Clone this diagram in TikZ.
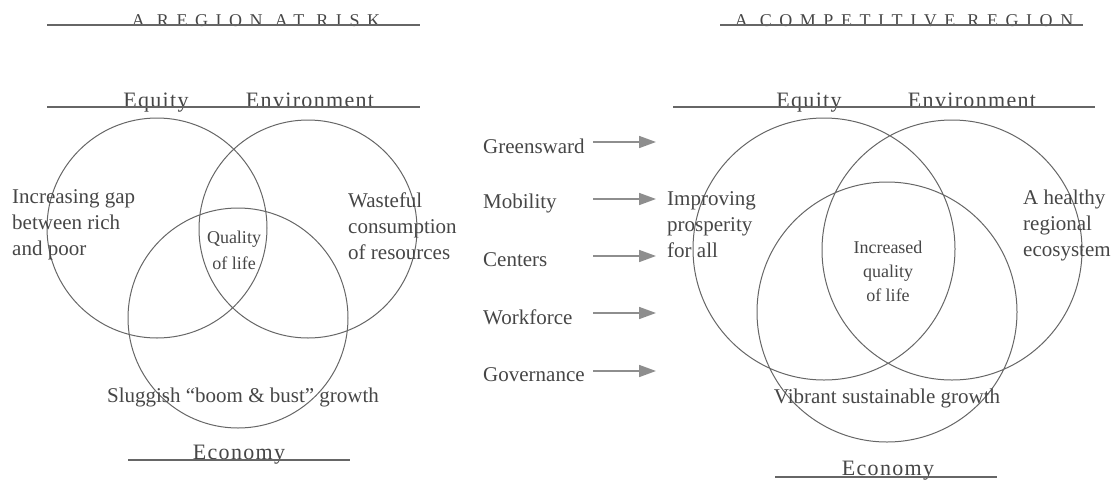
\documentclass[tikz,border=0pt]{standalone}
\usepackage{fontspec}
\setmainfont{Liberation Serif}
\usetikzlibrary{arrows.meta}

\definecolor{ink}{HTML}{464646}
\definecolor{rulegray}{HTML}{666666}
\definecolor{arrowgray}{HTML}{8E8E8E}

\tikzset{
  lbl/.style={text=ink, inner sep=0pt, align=left, font=\fontsize{21}{26}\selectfont},
  smalllbl/.style={text=ink, inner sep=0pt, align=center, font=\fontsize{18}{25}\selectfont},
  heading/.style={text=ink, inner sep=0pt, anchor=base, font=\fontsize{18}{20}\selectfont\addfontfeature{LetterSpace=42}},
  dimension/.style={text=ink, inner sep=0pt, anchor=base, font=\fontsize{22}{26}\selectfont\addfontfeature{LetterSpace=6}},
  venn/.style={draw=rulegray, line width=1pt},
  rulerline/.style={draw=rulegray, line width=1.1pt},
  flow/.style={draw=arrowgray, line width=1.7pt, -{Triangle[length=17pt,width=12pt]}}
}

\begin{document}
\begin{tikzpicture}[x=1pt,y=-1pt]
  \useasboundingbox (0,0) rectangle (1117,480);

  % region at risk
  \node[heading] (risk) at (256,26) {A REGION AT RISK};
  \draw[rulerline] (47,25) -- (420,25);
  \node[dimension] (eqL) at (156,107) {Equity};
  \node[dimension] (envL) at (310,107) {Environment};
  \draw[rulerline] (47,107) -- (420,107);
  \draw[venn] (157,228) circle[radius=110pt] (308,229) circle[radius=109pt]
              (238,318) circle[radius=110pt];
  \node[lbl, anchor=west] (gap) at (12,225) {Increasing gap\\between rich\\and poor};
  \node[lbl, anchor=west] (waste) at (348,226) {Wasteful\\consumption\\of resources};
  \node[smalllbl, font=\fontsize{18}{26}\selectfont] (qolL) at (234,250) {Quality\\of life};
  \node[lbl] (slug) at (243,397) {Sluggish ``boom \& bust'' growth};
  \node[dimension] (ecoL) at (239,459) {Economy};
  \draw[rulerline] (128,460) -- (350,460);

  % strategies
  \foreach \name/\txt/\y in {gs/Greensward/146, mob/Mobility/203, cen/Centers/260,
                             wf/Workforce/317, gov/Governance/375} {
    \node[lbl, anchor=west] (\name) at (483,\y) {\txt};
    \coordinate (\name-from) at (593,\y-4);
    \coordinate (\name-to) at (656,\y-4);
    \draw[flow] (\name-from) -- (\name-to);
  }

  % competitive region
  \node[heading] (comp) at (904,26) {A COMPETITIVE REGION};
  \draw[rulerline] (720,25) -- (1083,25);
  \node[dimension] (eqR) at (809,107) {Equity};
  \node[dimension] (envR) at (972,107) {Environment};
  \draw[rulerline] (673,107) -- (1095,107);
  \draw[venn] (824,249) circle[radius=131pt] (952,250) circle[radius=130pt]
              (887,312) circle[radius=130pt];
  \node[lbl, anchor=west] (prosp) at (667,225) {Improving\\prosperity\\for all};
  \node[lbl, anchor=west] (eco) at (1023,225) {A healthy\\regional\\ecosystem};
  \node[smalllbl, font=\fontsize{18}{24}\selectfont] (qolR) at (888,271) {Increased\\quality\\of life};
  \node[lbl] (vibr) at (887,398) {Vibrant sustainable growth};
  \node[dimension] (ecoR) at (888,475) {Economy};
  \draw[rulerline] (775,477) -- (997,477);
\end{tikzpicture}
\end{document}
